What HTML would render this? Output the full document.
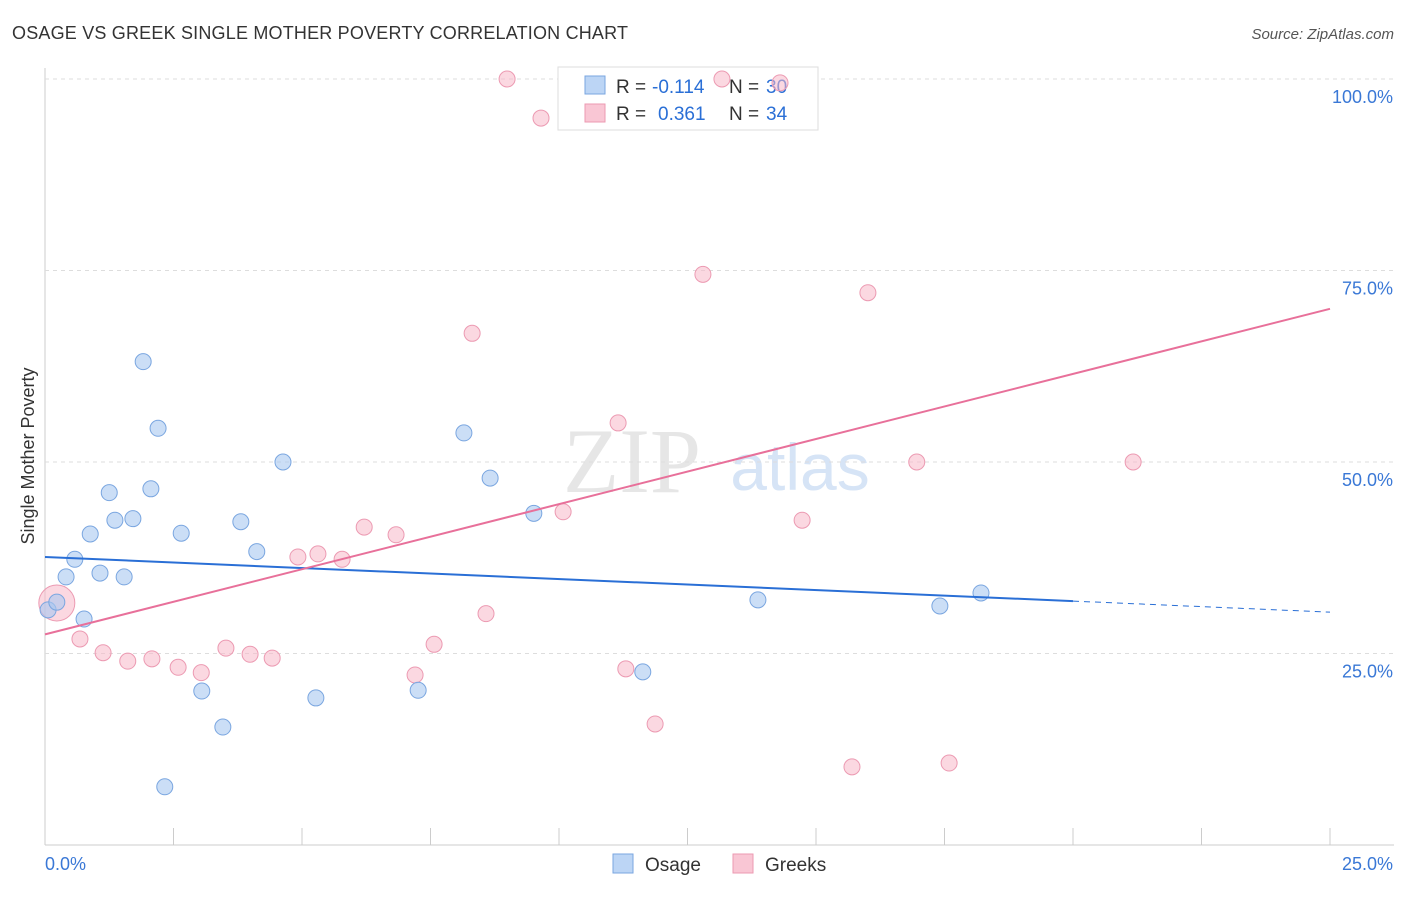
<!DOCTYPE html>
<html><head><meta charset="utf-8"><style>
body{margin:0;background:#fff;font-family:"Liberation Sans",sans-serif}
</style></head><body>
<svg id="chart" width="1406" height="892" xmlns="http://www.w3.org/2000/svg">
<text x="12" y="39" font-size="18" fill="#333" textLength="616">OSAGE VS GREEK SINGLE MOTHER POVERTY CORRELATION CHART</text>
<text x="1394" y="39" font-size="15" fill="#555" font-style="italic" text-anchor="end">Source: ZipAtlas.com</text>
<text x="632" y="492" font-size="92" fill="#e6e6e6" font-family="Liberation Serif" text-anchor="middle">ZIP</text>
<text x="800" y="490" font-size="66" fill="#d6e4f6" text-anchor="middle">atlas</text>
<text transform="translate(34,456) rotate(-90)" font-size="18" fill="#333" text-anchor="middle">Single Mother Poverty</text>
<g id="grid"></g>
<g>
<rect x="558" y="67" width="260" height="63" fill="#fff" stroke="#ddd"/>
<rect x="585" y="76" width="20" height="18" fill="#bcd5f5" stroke="#7aa6e0"/>
<rect x="585" y="104" width="20" height="18" fill="#f9c6d4" stroke="#ec9ab2"/>
<text x="616" y="93" font-size="19" fill="#333">R =</text>
<text x="652" y="93" font-size="19" fill="#2a6fd6">-0.114</text>
<text x="729" y="93" font-size="19" fill="#333">N =</text>
<text x="766" y="93" font-size="19" fill="#2a6fd6">30</text>
<text x="616" y="120" font-size="19" fill="#333">R =</text>
<text x="658" y="120" font-size="19" fill="#2a6fd6">0.361</text>
<text x="729" y="120" font-size="19" fill="#333">N =</text>
<text x="766" y="120" font-size="19" fill="#2a6fd6">34</text>
</g>
<g id="pts"></g><g id="lines"></g>
<g>
<rect x="613" y="854" width="20" height="19" fill="#bcd5f5" stroke="#7aa6e0"/>
<text x="645" y="871" font-size="19" fill="#333">Osage</text>
<rect x="733" y="854" width="20" height="19" fill="#f9c6d4" stroke="#ec9ab2"/>
<text x="765" y="871" font-size="19" fill="#333">Greeks</text>
</g>
</svg>
<script>
const osageX=[0.06,0.23,0.41,0.58,0.76,0.88,1.07,1.25,1.36,1.54,1.71,1.91,2.06,2.20,2.33,2.65,3.05,3.46,3.81,4.12,4.63,5.27,7.26,8.15,8.66,9.51,11.63,13.87,17.41,18.21];
const osageY=[30.7,31.7,35.0,37.3,29.5,40.6,35.5,46.0,42.4,35.0,42.6,63.1,46.5,54.4,7.6,40.7,20.1,15.4,42.2,38.3,50.0,19.2,20.2,53.8,47.9,43.3,22.6,32.0,31.2,32.9];
const greekX=[0.23,0.68,1.13,1.61,2.08,2.59,3.04,3.52,3.99,4.42,4.92,5.31,5.78,6.21,6.83,7.20,7.57,8.58,8.99,9.65,10.08,11.15,11.30,11.87,12.80,13.17,14.30,14.73,15.70,16.01,16.96,17.59,21.17,8.31];
const greekY=[31.6,26.9,25.1,24.0,24.3,23.2,22.5,25.7,24.9,24.4,37.6,38.0,37.3,41.5,40.5,22.2,26.2,30.2,100,94.9,43.5,55.1,23.0,15.8,74.5,100,99.5,42.4,10.2,72.1,50.0,10.7,50.0,66.8];
const osageTrend=[37.6,30.4];
const greekTrend=[27.5,70.0];
const yTicks=[25,50,75,100];
const xTickLabels=["0.0%","25.0%"];
const X=v=>45+v*51.4, Y=v=>845-v*7.66;
const NS="http://www.w3.org/2000/svg";
function mk(p,t,a){const e=document.createElementNS(NS,t);for(const k in a)e.setAttribute(k,a[k]);p.appendChild(e);return e;}
const grid=document.getElementById('grid'),pts=document.getElementById('pts'),lines=document.getElementById('lines');
let ax=mk(grid,'line',{x1:45,y1:68,x2:45,y2:845,stroke:'#ccc'});


let bx=mk(grid,'line',{x1:45,y1:845,x2:1394,y2:845,stroke:'#ccc'});


for(let i=0;i<=10;i++){const t=mk(grid,'line',{x1:X(i*2.5),y1:828,x2:X(i*2.5),y2:845,stroke:'#ccc'});

}
yTicks.forEach(v=>{const l=mk(grid,'line',{x1:45,y1:Y(v),x2:1394,y2:Y(v),stroke:'#ddd','stroke-dasharray':'4,4'});


const t=mk(grid,'text',{x:1393,y:Y(v)+24,'font-size':18,fill:'#3a78d6','text-anchor':'end'});t.textContent=v.toFixed(1)+'%';

});
xTickLabels.forEach((s,i)=>{const t=mk(grid,'text',{x:i?1393:45,y:870,'font-size':18,fill:'#3a78d6','text-anchor':i?'end':'start'});t.textContent=s;

});
greekX.forEach((x,i)=>{const c=mk(pts,'circle',{cx:X(x),cy:Y(greekY[i]),r:i==0?18:8,fill:'#f7b8c8','fill-opacity':0.55,stroke:'#ec9ab2'});

});
osageX.forEach((x,i)=>{const c=mk(pts,'circle',{cx:X(x),cy:Y(osageY[i]),r:8,fill:'#a9c8f0','fill-opacity':0.6,stroke:'#7aa6e0'});

});
const oy=x=>osageTrend[0]+(osageTrend[1]-osageTrend[0])*x/25;
let l1=mk(lines,'line',{x1:X(0),y1:Y(oy(0)),x2:X(20),y2:Y(oy(20)),stroke:'#2a6fd6','stroke-width':2});


let l2=mk(lines,'line',{x1:X(20),y1:Y(oy(20)),x2:X(25),y2:Y(oy(25)),stroke:'#2a6fd6','stroke-width':1,'stroke-dasharray':'6,5'});


let l3=mk(lines,'line',{x1:X(0),y1:Y(greekTrend[0]),x2:X(25),y2:Y(greekTrend[1]),stroke:'#e8709a','stroke-width':2});


</script>
</body></html>
